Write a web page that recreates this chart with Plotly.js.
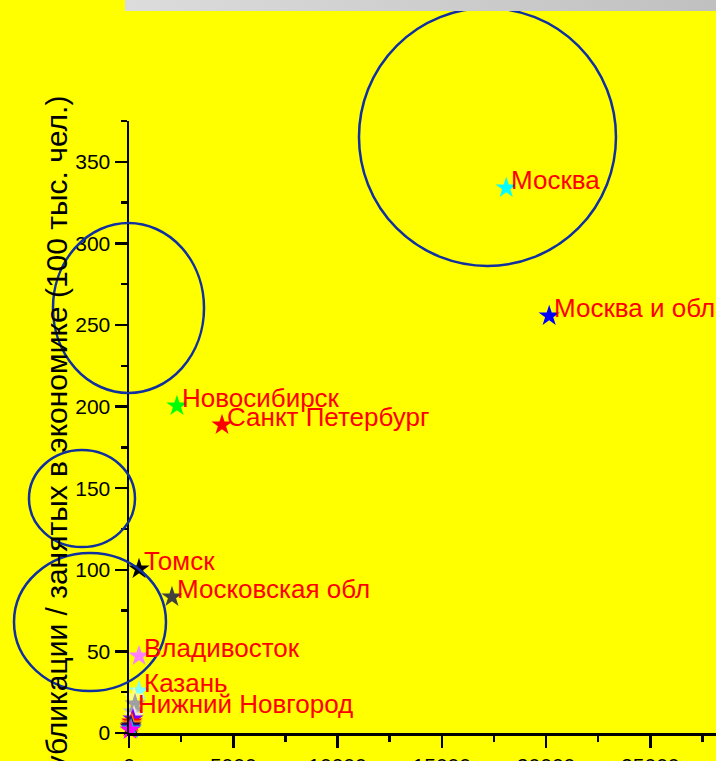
<!DOCTYPE html>
<html>
<head>
<meta charset="utf-8">
<script src="https://cdn.plot.ly/plotly-3.0.1.min.js"></script>
<style>
  html, body { margin: 0; padding: 0; background: #FFFF00; }
  #wrap { position: relative; width: 716px; height: 761px; overflow: hidden; }
  #chart { position: absolute; left: 0; top: 0; width: 716px; height: 761px; }
  #bar { position: absolute; left: 125px; top: 0; width: 591px; height: 11px;
         background: linear-gradient(to right, #DCDCDC, #C0C0C0); }
</style>
</head>
<body>
<div id="wrap">
  <div id="chart"></div>
  <div id="bar"></div>
</div>
<script>
// ---- data ----
const cities = ["Москва", "Москва и обл", "Новосибирск", "Санкт Петербург", "Томск",
                "Московская обл", "Владивосток", "Казань", "Нижний Новгород",
                "", "", "", "", "", "", "", "", "", "", ""];
const pubs   = [18090, 20150, 2300, 4460, 480, 2060, 480, 480, 190,
                240, 290, 240, 190, 140, 140, 100, 50, 100, 100, 50];
const perEmp = [334, 255.6, 200.4, 188.8, 100.5, 83.4, 47.2, 25.7, 12.9,
                22.1, 17.8, 10.4, 8.6, 6.7, 5.5, 4.3, 3.7, 3.1, 2.5, 1.8];
const colors = ["#00FFFF", "#0000FF", "#00FF00", "#FF0000", "#000000",
                "#404040", "#FF80FF", "#80FFFF", "#C0C0C0",
                "#FFFF80", "#A0A0A0", "#E6E6E6", "#8000FF", "#FF0000", "#FF8000",
                "#000080", "#800000", "#0000FF", "#00C0C0", "#FF00FF"];
const xTicks = [0, 5000, 10000, 15000, 20000, 25000];
const yTicks = [0, 50, 100, 150, 200, 250, 300, 350];
const yTitle = "Публикации / занятых в экономике (100 тыс. чел.)";

// highlight ellipses (paper coordinates)
const ellipses = [
  [0.3918, 0.7631, 0.8296, 1.1846],
  [-0.1295, 0.5556, 0.1278, 0.8333],
  [-0.1704, 0.3039, 0.0102, 0.4624],
  [-0.1959, 0.0686, 0.0630, 0.2941]
];

const trace = {
  type: "scatter", mode: "markers",
  x: pubs, y: perEmp,
  marker: { symbol: "star", size: 16, color: colors, line: { width: 0 } },
  cliponaxis: false, hoverinfo: "skip"
};

const annotations = [];
cities.forEach((c, i) => {
  if (!c) return;
  annotations.push({
    x: pubs[i], y: perEmp[i], xref: "x", yref: "y",
    text: c, showarrow: false, xanchor: "left", yanchor: "middle",
    xshift: 3, yshift: 8,
    font: { family: "Liberation Sans, Arial", size: 26, color: "#FF0000" }
  });
});
annotations.push({
  xref: "paper", yref: "paper",
  x: (56 - 129) / 587, y: (733 - 444) / 612,
  text: yTitle, textangle: -90, showarrow: false,
  xanchor: "center", yanchor: "middle",
  font: { family: "Liberation Sans, Arial", size: 30, color: "#000000" }
});

const shapes = ellipses.map(e => ({
  type: "circle", xref: "paper", yref: "paper",
  x0: e[0], y0: e[1], x1: e[2], y1: e[3],
  line: { color: "#1030A0", width: 2.5 }, layer: "above"
}));

const axisCommon = {
  showgrid: false, zeroline: false, showline: true,
  linecolor: "#000000", linewidth: 2.5,
  ticks: "outside", ticklen: 12, tickwidth: 2.5, tickcolor: "#000000",
  tickfont: { family: "Liberation Sans, Arial", size: 21, color: "#000000" }
};

const layout = {
  width: 716, height: 761,
  margin: { l: 129, r: 0, t: 121, b: 28 },
  paper_bgcolor: "#FFFF00", plot_bgcolor: "#FFFF00",
  showlegend: false,
  xaxis: Object.assign({}, axisCommon, {
    range: [0, 28150], tickvals: xTicks, ticktext: xTicks.map(String),
    minor: { dtick: 2500, tick0: 0, ticks: "outside", ticklen: 6, tickwidth: 2.5, tickcolor: "#000000" }
  }),
  yaxis: Object.assign({}, axisCommon, {
    range: [0, 375], tickvals: yTicks, ticktext: yTicks.map(String),
    minor: { dtick: 25, tick0: 0, ticks: "outside", ticklen: 6, tickwidth: 2.5, tickcolor: "#000000" }
  }),
  annotations: annotations,
  shapes: shapes
};

Plotly.newPlot("chart", [trace], layout, { displayModeBar: false, staticPlot: true });
</script>
</body>
</html>
